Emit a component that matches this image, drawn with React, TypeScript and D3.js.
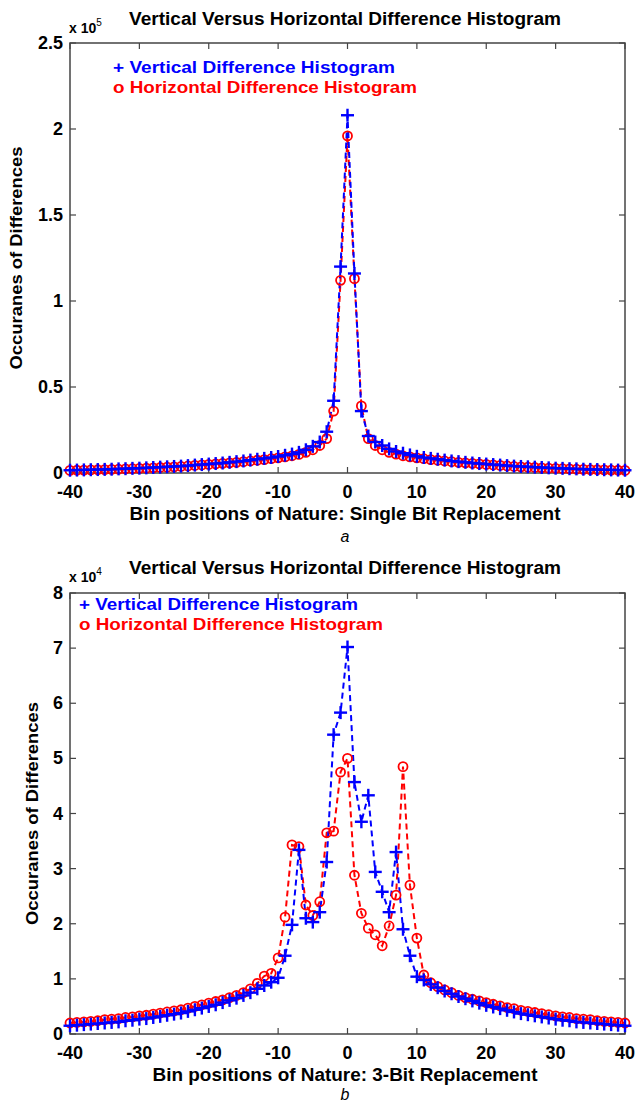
import React from "react";
import * as d3 from "d3";

// Bin positions (difference values)
const bins: number[] = d3.range(-40, 41);
const xTicks = [-40, -30, -20, -10, 0, 10, 20, 30, 40];

// Panel a: Single Bit Replacement (x 10^5)
const singleVertical = [
  0.016, 0.017, 0.018, 0.019, 0.02, 0.021, 0.022, 0.024, 0.025, 0.027,
  0.028, 0.03, 0.032, 0.034, 0.036, 0.038, 0.04, 0.043, 0.046, 0.049,
  0.052, 0.055, 0.058, 0.062, 0.066, 0.07, 0.075, 0.08, 0.085, 0.09,
  0.096, 0.103, 0.11, 0.12, 0.135, 0.155, 0.18, 0.24, 0.42, 1.2,
  2.08,
  1.16, 0.36, 0.215, 0.18, 0.16, 0.14, 0.125, 0.115, 0.105, 0.097,
  0.09, 0.085, 0.08, 0.075, 0.07, 0.066, 0.062, 0.058, 0.055, 0.052,
  0.049, 0.046, 0.043, 0.04, 0.038, 0.036, 0.034, 0.032, 0.03, 0.028,
  0.027, 0.025, 0.024, 0.022, 0.021, 0.02, 0.019, 0.018, 0.017, 0.016,
];
const singleHorizontal = [
  0.015, 0.016, 0.017, 0.018, 0.019, 0.02, 0.021, 0.022, 0.024, 0.025,
  0.027, 0.028, 0.03, 0.032, 0.034, 0.036, 0.038, 0.041, 0.044, 0.047,
  0.05, 0.053, 0.056, 0.059, 0.062, 0.066, 0.07, 0.074, 0.078, 0.083,
  0.088, 0.094, 0.1, 0.108, 0.12, 0.135, 0.16, 0.2, 0.36, 1.12,
  1.96,
  1.13, 0.39, 0.2, 0.16, 0.135, 0.12, 0.11, 0.1, 0.094, 0.088,
  0.083, 0.078, 0.074, 0.07, 0.066, 0.062, 0.059, 0.056, 0.053, 0.05,
  0.047, 0.044, 0.041, 0.038, 0.036, 0.034, 0.032, 0.03, 0.028, 0.027,
  0.025, 0.024, 0.022, 0.021, 0.02, 0.019, 0.018, 0.017, 0.016, 0.015,
];

// Panel b: 3-Bit Replacement (x 10^4)
const threeVertical = [
  0.15, 0.16, 0.17, 0.18, 0.19, 0.2, 0.21, 0.22, 0.24, 0.25,
  0.27, 0.28, 0.3, 0.32, 0.34, 0.36, 0.38, 0.41, 0.44, 0.47,
  0.5, 0.53, 0.57, 0.61, 0.65, 0.7, 0.75, 0.82, 0.88, 0.94,
  1.02, 1.42, 1.98, 3.34, 2.1, 2.03, 2.21, 3.12, 5.43, 5.83,
  7.02,
  4.57, 3.85, 4.33, 2.94, 2.58, 2.21, 3.3, 1.9, 1.42, 1.04,
  0.98, 0.9, 0.84, 0.78, 0.73, 0.68, 0.64, 0.6, 0.56, 0.52,
  0.49, 0.46, 0.43, 0.4, 0.37, 0.35, 0.33, 0.31, 0.29, 0.27,
  0.25, 0.24, 0.22, 0.21, 0.2, 0.19, 0.18, 0.17, 0.16, 0.15,
];
const threeHorizontal = [
  0.2, 0.21, 0.22, 0.23, 0.24, 0.26, 0.27, 0.28, 0.3, 0.31,
  0.33, 0.34, 0.36, 0.38, 0.4, 0.42, 0.44, 0.47, 0.5, 0.53,
  0.56, 0.59, 0.62, 0.66, 0.7, 0.75, 0.82, 0.92, 1.05, 1.1,
  1.38, 2.12, 3.43, 3.4, 2.34, 2.15, 2.4, 3.65, 3.68, 4.75,
  5.0,
  2.88, 2.19, 1.92, 1.8, 1.6, 1.96, 2.52, 4.85, 2.7, 1.74,
  1.07, 0.93, 0.86, 0.8, 0.75, 0.7, 0.66, 0.63, 0.6, 0.57,
  0.54, 0.51, 0.48, 0.46, 0.43, 0.41, 0.39, 0.37, 0.35, 0.33,
  0.31, 0.3, 0.28, 0.27, 0.26, 0.24, 0.23, 0.22, 0.21, 0.2,
];

const topYTicks = [0, 0.5, 1, 1.5, 2, 2.5];
const bottomYTicks = [0, 1, 2, 3, 4, 5, 6, 7, 8];

const TITLE = "Vertical Versus Horizontal Difference Histogram";
const LEGEND_V = "+ Vertical Difference Histogram";
const LEGEND_H = "o Horizontal Difference Histogram";
const YLABEL = "Occuranes of Differences";

const FONT = "'Liberation Sans', Arial, sans-serif";
const BLUE = "#0000ff";
const RED = "#ff0000";

type PanelProps = {
  top: number;
  bottom: number;
  yMax: number;
  yTicks: number[];
  blue: number[];
  red: number[];
  expo: string;
  titleY: number;
  xlabel: string;
  xlabelW: number;
  legendX: number;
  legendY: number;
  legendVW: number;
  ylabelX: number;
  caption: string;
  captionY: number;
};

function Panel(p: PanelProps) {
  const left = 70;
  const right = 625;
  const x = d3.scaleLinear().domain([-40, 40]).range([left, right]);
  const y = d3.scaleLinear().domain([0, p.yMax]).range([p.bottom, p.top]);
  const line = d3
    .line<number>()
    .x((_, i) => x(bins[i]))
    .y((d) => y(d));
  const tl = 6;
  const midY = (p.top + p.bottom) / 2;
  return (
    <g fontFamily={FONT} fontWeight="bold">
      {/* title */}
      <text x={345} y={p.titleY} textAnchor="middle" fontSize={18} textLength={432} lengthAdjust="spacingAndGlyphs">
        {TITLE}
      </text>
      <text x={69} y={p.titleY + 8} fontSize={14}>
        <tspan>x 10</tspan>
        <tspan dy={-7} fontSize={10} fontWeight="normal">{p.expo}</tspan>
      </text>

      {/* frame */}
      <rect x={left} y={p.top} width={right - left} height={p.bottom - p.top} fill="white" stroke="#444" strokeWidth={1.5} />
      {xTicks.map((t) => (
        <g key={"xt" + t} stroke="#444" strokeWidth={1.2}>
          <line x1={x(t)} x2={x(t)} y1={p.bottom} y2={p.bottom - tl} />
          <line x1={x(t)} x2={x(t)} y1={p.top} y2={p.top + tl} />
        </g>
      ))}
      {p.yTicks.map((t) => (
        <g key={"yt" + t} stroke="#444" strokeWidth={1.2}>
          <line x1={left} x2={left + tl} y1={y(t)} y2={y(t)} />
          <line x1={right} x2={right - tl} y1={y(t)} y2={y(t)} />
        </g>
      ))}

      {/* series */}
      <path d={line(p.red) || ""} fill="none" stroke={RED} strokeWidth={2} strokeDasharray="6,4" />
      <path d={line(p.blue) || ""} fill="none" stroke={BLUE} strokeWidth={2} strokeDasharray="6,4" />
      {p.red.map((v, i) => (
        <circle key={"r" + i} cx={x(bins[i])} cy={y(v)} r={4.5} fill="none" stroke={RED} strokeWidth={1.8} />
      ))}
      {p.blue.map((v, i) => (
        <g key={"b" + i} stroke={BLUE} strokeWidth={2.4}>
          <line x1={x(bins[i]) - 6.5} x2={x(bins[i]) + 6.5} y1={y(v)} y2={y(v)} />
          <line x1={x(bins[i])} x2={x(bins[i])} y1={y(v) - 6.5} y2={y(v) + 6.5} />
        </g>
      ))}

      {/* legend */}
      <text x={p.legendX} y={p.legendY} fontSize={17} fill={BLUE} textLength={p.legendVW} lengthAdjust="spacingAndGlyphs">
        {LEGEND_V}
      </text>
      <text x={p.legendX} y={p.legendY + 20} fontSize={17} fill={RED} textLength={304} lengthAdjust="spacingAndGlyphs">
        {LEGEND_H}
      </text>

      {/* tick labels */}
      {xTicks.map((t) => (
        <text key={"xl" + t} x={x(t)} y={p.bottom + 25} textAnchor="middle" fontSize={18}>
          {t}
        </text>
      ))}
      {p.yTicks.map((t) => (
        <text key={"yl" + t} x={63} y={y(t) + 6} textAnchor="end" fontSize={18}>
          {t}
        </text>
      ))}

      {/* axis labels */}
      <text x={345} y={p.bottom + 47} textAnchor="middle" fontSize={18} textLength={p.xlabelW} lengthAdjust="spacingAndGlyphs">
        {p.xlabel}
      </text>
      <text
        transform={`translate(${p.ylabelX},${midY}) rotate(-90)`}
        textAnchor="middle"
        fontSize={17}
        textLength={223}
        lengthAdjust="spacingAndGlyphs"
      >
        {YLABEL}
      </text>
      <text x={345} y={p.captionY} textAnchor="middle" fontSize={16} fontWeight="normal" fontStyle="italic">
        {p.caption}
      </text>
    </g>
  );
}

export default function App() {
  return (
    <svg width={635} height={1104} style={{ position: "absolute", left: 0, top: 0, background: "white" }}>
      <rect x={0} y={0} width={635} height={1104} fill="white" />
      <Panel
        top={43}
        bottom={473}
        yMax={2.5}
        yTicks={topYTicks}
        blue={singleVertical}
        red={singleHorizontal}
        expo="5"
        titleY={25}
        xlabel="Bin positions of Nature: Single Bit Replacement"
        xlabelW={431}
        legendX={113}
        legendY={73}
        legendVW={282}
        ylabelX={22}
        caption="a"
        captionY={542}
      />
      <Panel
        top={593}
        bottom={1034}
        yMax={8}
        yTicks={bottomYTicks}
        blue={threeVertical}
        red={threeHorizontal}
        expo="4"
        titleY={574}
        xlabel="Bin positions of Nature: 3-Bit Replacement"
        xlabelW={385}
        legendX={79}
        legendY={610}
        legendVW={279}
        ylabelX={38}
        caption="b"
        captionY={1100}
      />
    </svg>
  );
}
